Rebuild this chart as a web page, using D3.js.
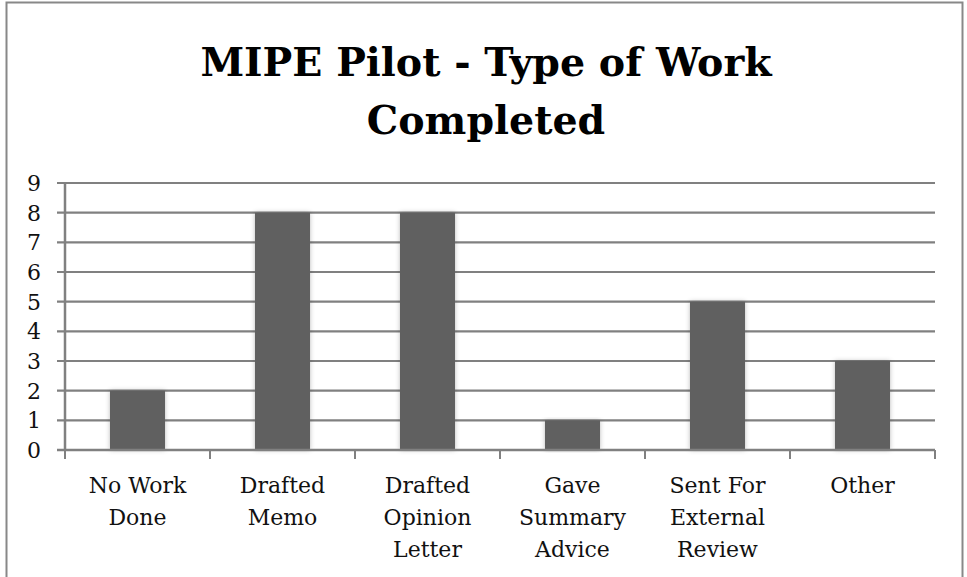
<!DOCTYPE html>
<html>
<head>
<meta charset="utf-8">
<script src="https://cdn.jsdelivr.net/npm/d3@7"></script>
<style>
body{margin:0;background:#fff}
svg text{font-family:"DejaVu Serif",serif;fill:#111}
</style>
</head>
<body>
<div id="chart"></div>
<script>
let width = 967, height = 577;
const categories = [["No Work","Done"],["Drafted","Memo"],["Drafted","Opinion","Letter"],["Gave","Summary","Advice"],["Sent For","External","Review"],["Other"]];
const values = [2,8,8,1,5,3];
const ticks = [0,1,2,3,4,5,6,7,8,9];
const title = ["MIPE Pilot - Type of Work","Completed"];

let svg = d3.select("#chart").append("svg")
  .attr("width",width).attr("height",height)

svg.append("rect").attr("x",6.5).attr("y",2.5).attr("width",956).attr("height",600)
  .attr("fill","#fff").attr("stroke","#888").attr("stroke-width",2)

let defs = svg.append("defs")
let f = defs.append("filter").attr("id","sh").attr("x","-20%").attr("y","-10%").attr("width","140%").attr("height","120%")
f.append("feGaussianBlur").attr("in","SourceAlpha").attr("stdDeviation",2.5).attr("result","b")
f.append("feFlood").attr("flood-color","#000").attr("flood-opacity",0.25)
f.append("feComposite").attr("in2","b").attr("operator","in").attr("result","s")
let m = f.append("feMerge")
m.append("feMergeNode").attr("in","s")
m.append("feMergeNode").attr("in","SourceGraphic")

svg.selectAll(".title").data(title).enter().append("text")
  .attr("x",486).attr("y",(d,i)=>76+i*58)
  .attr("text-anchor","middle").attr("font-weight","bold").attr("font-size",39.5)
  .style("fill","#000")
  .text(d=>d)

let x = d3.scaleBand().domain(d3.range(categories.length)).range([65,935]).paddingInner(0.62).paddingOuter(0.31)
let y = d3.scaleLinear().domain([0,9]).range([450,183])

svg.selectAll(".grid").data(ticks.slice(1)).enter().append("line")
  .attr("x1",57).attr("x2",935).attr("y1",d=>y(d)).attr("y2",d=>y(d))
  .attr("stroke","#808080").attr("stroke-width",2.2)

svg.selectAll(".bar").data(values).enter().append("rect")
  .attr("x",(d,i)=>x(i)).attr("y",d=>y(d)).attr("width",x.bandwidth()).attr("height",d=>y(0)-y(d))
  .attr("fill","#606060").attr("filter","url(#sh)")

// y axis
svg.append("line").attr("x1",65).attr("x2",65).attr("y1",y(9)).attr("y2",y(0)+1).attr("stroke","#808080").attr("stroke-width",2.5)
svg.append("line").attr("x1",57).attr("x2",935).attr("y1",y(0)).attr("y2",y(0)).attr("stroke","#808080").attr("stroke-width",2.5)
let step = (935-65)/categories.length
svg.selectAll(".xt").data(d3.range(categories.length+1)).enter().append("line")
  .attr("x1",d=>65+d*step).attr("x2",d=>65+d*step).attr("y1",y(0)).attr("y2",y(0)+9)
  .attr("stroke","#808080").attr("stroke-width",2)

svg.selectAll(".yl").data(ticks).enter().append("text")
  .attr("x",41).attr("y",d=>y(d)+8).attr("text-anchor","end").attr("font-size",22)
  .text(d=>d)

let labels = svg.selectAll(".xl").data(categories).enter().append("text")
  .attr("text-anchor","middle").attr("font-size",22)
labels.selectAll("tspan").data((d,i)=>d.map(t=>({t,i}))).enter().append("tspan")
  .attr("x",d=>x(d.i)+x.bandwidth()/2).attr("y",(d,j)=>493+j*32)
  .text(d=>d.t)
</script>
</body>
</html>
